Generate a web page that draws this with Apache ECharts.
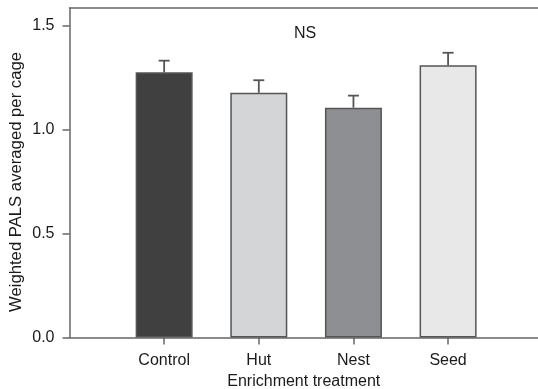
<!DOCTYPE html>
<html>
<head>
<meta charset="utf-8">
<script src="https://cdn.jsdelivr.net/npm/echarts@6/dist/echarts.min.js"></script>
<style>
html,body{margin:0;padding:0;background:#fff;}
#c{width:538px;height:389px;}
</style>
</head>
<body>
<div id="c"></div>
<script>
var categories = ['Control', 'Hut', 'Nest', 'Seed'];
var means = [1.274, 1.176, 1.104, 1.308];
var se = [0.056, 0.060, 0.058, 0.060];
var barColors = ['#404040', '#d4d5d7', '#8e8f92', '#e8e8e8'];
var yTicks = [0, 0.5, 1.0, 1.5];
var xPositions = [1, 2, 3, 4];

var chart = echarts.init(document.getElementById('c'), null, {renderer: 'canvas'});
var font = 'Liberation Sans, Arial, Helvetica, sans-serif';
var axisColor = '#666';
var textColor = '#1a1a1a';

var barData = means.map(function (v, i) {
  return {value: [xPositions[i], v], itemStyle: {color: barColors[i]}};
});
var errData = means.map(function (v, i) {
  return [xPositions[i], v, v + se[i]];
});

var option = {
  animation: false,
  backgroundColor: '#fff',
  grid: {left: 69.5, right: 0, top: 8, bottom: 51.5, containLabel: false, outerBoundsMode: 'none'},
  textStyle: {fontFamily: font},
  xAxis: [{
    type: 'value',
    min: 0,
    max: 4.95,
    position: 'bottom',
    splitLine: {show: false},
    axisLine: {show: true, lineStyle: {color: axisColor, width: 1.5}},
    axisTick: {show: true, length: 7, customValues: xPositions, lineStyle: {color: axisColor, width: 1.5}},
    axisLabel: {
      show: true, customValues: xPositions, margin: 15,
      color: textColor, fontSize: 16, fontFamily: font,
      formatter: function (v) { return categories[Math.round(v) - 1] || ''; }
    },
    name: 'Enrichment treatment',
    nameLocation: 'middle',
    nameGap: 35,
    nameTextStyle: {color: textColor, fontSize: 16, fontFamily: font}
  }, {
    type: 'value',
    min: 0,
    max: 4.95,
    position: 'top',
    splitLine: {show: false},
    axisLine: {show: true, lineStyle: {color: axisColor, width: 1.5}},
    axisTick: {show: false},
    axisLabel: {show: false}
  }],
  yAxis: {
    type: 'value',
    min: 0,
    max: 1.583,
    splitLine: {show: false},
    axisLine: {show: true, lineStyle: {color: axisColor, width: 1.5}},
    axisTick: {show: true, length: 7, customValues: yTicks, lineStyle: {color: axisColor, width: 1.5}},
    axisLabel: {
      show: true, customValues: yTicks, margin: 15,
      color: textColor, fontSize: 16, fontFamily: font,
      formatter: function (v) { return v.toFixed(1); }
    }
  },
  series: [{
    type: 'bar',
    xAxisIndex: 0,
    data: barData,
    barWidth: 57,
    itemStyle: {borderColor: '#555', borderWidth: 1.5},
    z: 2
  }, {
    type: 'custom',
    xAxisIndex: 0,
    data: errData,
    z: 3,
    renderItem: function (params, api) {
      var x = api.value(0);
      var base = api.coord([x, api.value(1)]);
      var top = api.coord([x, api.value(2)]);
      var hw = 5.5;
      var st = {stroke: '#555', lineWidth: 1.8};
      return {
        type: 'group',
        children: [
          {type: 'line', shape: {x1: base[0], y1: base[1], x2: top[0], y2: top[1]}, style: st},
          {type: 'line', shape: {x1: top[0] - hw, y1: top[1], x2: top[0] + hw, y2: top[1]}, style: st}
        ]
      };
    }
  }],
  graphic: [{
    type: 'text',
    x: 305,
    y: 33.5,
    style: {
      text: 'NS', fill: textColor, fontSize: 16, fontFamily: font,
      align: 'center', verticalAlign: 'middle'
    }
  }, {
    type: 'text',
    x: 16.5,
    y: 182,
    rotation: Math.PI / 2,
    style: {
      text: 'Weighted PALS averaged per cage', fill: textColor, fontSize: 16.7, fontFamily: font,
      align: 'center', verticalAlign: 'middle'
    }
  }]
};
chart.setOption(option);
</script>
</body>
</html>
